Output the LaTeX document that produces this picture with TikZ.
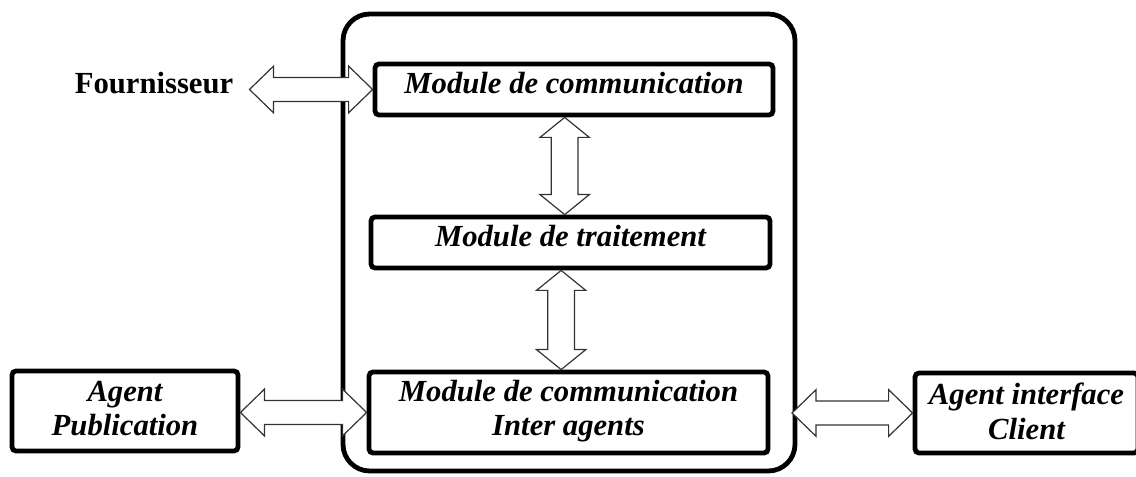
\documentclass[tikz,border=0pt]{standalone}
\usepackage{fontspec}
\setmainfont{Liberation Serif}
\usetikzlibrary{calc}
\tikzset{
  box/.style={draw, line width=3.6pt, rounded corners=3pt, align=center, inner sep=0pt,
    font=\fontsize{23}{26}\selectfont\bfseries\itshape},
  outerbox/.style={draw, line width=3.6pt, rounded corners=20pt, inner sep=0pt},
  blk/.style={draw=black!80, line width=0.9pt, fill=white, line join=miter},
  plain/.style={font=\fontsize{23}{26}\selectfont\bfseries, inner sep=0pt},
}
% horizontal double block arrow: y taken from the second point
\newcommand\harrow[2]{%
  \draw[blk] let \p1=#1, \p2=#2 in
    (\x1,\y2) -- (\x1+18pt,\y2+17.5pt) -- (\x1+18pt,\y2+9pt) -- (\x2-18pt,\y2+9pt)
    -- (\x2-18pt,\y2+17.5pt) -- (\x2,\y2) -- (\x2-18pt,\y2-17.5pt) -- (\x2-18pt,\y2-9pt)
    -- (\x1+18pt,\y2-9pt) -- (\x1+18pt,\y2-17.5pt) -- cycle;}
% vertical double block arrow: x taken from the first point
\newcommand\varrow[2]{%
  \draw[blk] let \p1=#1, \p2=#2 in
    (\x1,\y1) -- (\x1+18.5pt,\y1-15pt) -- (\x1+10pt,\y1-15pt) -- (\x1+10pt,\y2+15pt)
    -- (\x1+18.5pt,\y2+15pt) -- (\x1,\y2) -- (\x1-18.5pt,\y2+15pt) -- (\x1-10pt,\y2+15pt)
    -- (\x1-10pt,\y1-15pt) -- (\x1-18.5pt,\y1-15pt) -- cycle;}
\begin{document}
\begin{tikzpicture}[x=0.75pt,y=-0.75pt]
\useasboundingbox (0,0) rectangle (1136,477);
\node[outerbox, minimum width=339pt, minimum height=342.75pt] (outer) at (569,242.5) {};
\node[box, minimum width=298.5pt, minimum height=38.25pt, text depth=10pt] (mc) at (574,89.5) {Module de communication};
\node[box, minimum width=299.25pt, minimum height=38.25pt, text depth=10pt] (mt) at (570.5,242.5) {Module de traitement};
\node[box, minimum width=299.25pt, minimum height=60.75pt, text depth=7pt] (mi) at (568.5,412.5) {Module de communication\\Inter agents};
\node[box, minimum width=169.5pt, minimum height=60pt, text depth=3.8pt] (pub) at (125,411) {Agent\\Publication};
\node[box, minimum width=167.25pt, minimum height=60pt, text depth=3pt] (client) at (1026.5,413) {Agent interface\\Client};
\node[plain] (four) at (154,83) {Fournisseur};
\harrow{($(four.east)+(12pt,0)$)}{(mc.west)}
\varrow{($(mc.south)+(-7pt,0)$)}{($(mt.north)+(-7pt,0)$)}
\varrow{($(mt.south)+(-7pt,0)$)}{($(mi.north)+(-7pt,0)$)}
\harrow{(pub.east)}{(mi.west)}
\harrow{($(outer.east)+(-4pt,0)$)}{(client.west)}
\end{tikzpicture}
\end{document}
